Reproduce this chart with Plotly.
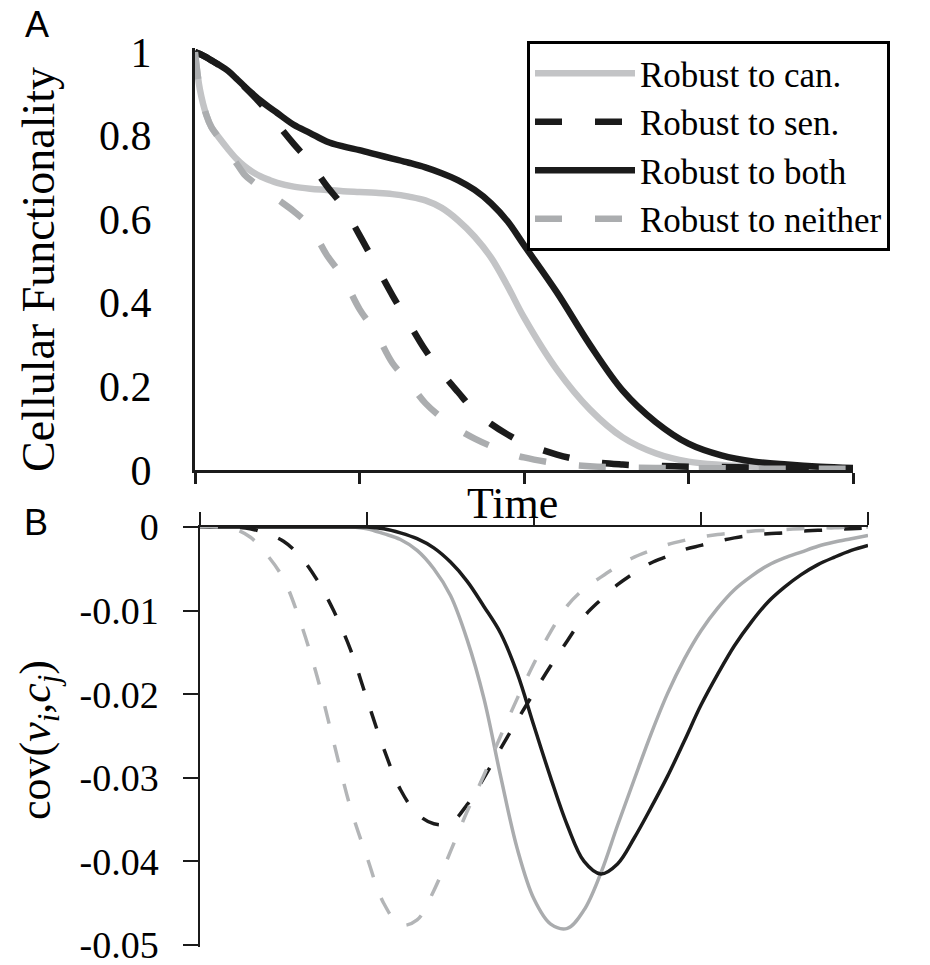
import plotly.graph_objects as go

# ---------------- data ----------------
# Panel A : cellular functionality vs time
tA = [0, 0.03, 0.07, 0.1, 0.15, 0.2, 0.25, 0.3, 0.35, 0.4, 0.45, 0.5, 0.6, 0.7, 0.8, 0.9, 1.0,
      1.1, 1.2, 1.3, 1.4, 1.5, 1.6, 1.7, 1.8, 1.9, 2.0, 2.2, 2.4, 2.6, 2.8, 3.0, 3.2, 3.4, 3.6,
      3.8, 4.0]
A_can = [1.0, 0.91, 0.848, 0.82, 0.793, 0.768, 0.745, 0.727, 0.713, 0.702, 0.694, 0.687, 0.678,
         0.673, 0.670, 0.667, 0.665, 0.663, 0.660, 0.654, 0.645, 0.627, 0.597, 0.558, 0.508, 0.44,
         0.365, 0.24, 0.145, 0.078, 0.04, 0.02, 0.012, 0.008, 0.006, 0.004, 0.003]
A_sen = [1.0, 0.995, 0.987, 0.98, 0.968, 0.955, 0.937, 0.917, 0.897, 0.876, 0.853, 0.828, 0.78,
         0.735, 0.68, 0.63, 0.562, 0.49, 0.418, 0.352, 0.287, 0.233, 0.186, 0.141, 0.11, 0.085,
         0.064, 0.037, 0.02, 0.013, 0.01, 0.008, 0.007, 0.006, 0.005, 0.004, 0.003]
A_both = [1.0, 0.995, 0.987, 0.98, 0.968, 0.955, 0.937, 0.918, 0.9, 0.883, 0.868, 0.854, 0.826,
          0.806, 0.786, 0.774, 0.765, 0.755, 0.745, 0.735, 0.724, 0.71, 0.693, 0.67, 0.638, 0.595,
          0.538, 0.425, 0.30, 0.19, 0.115, 0.063, 0.035, 0.02, 0.013, 0.008, 0.005]
A_neither = [1.0, 0.91, 0.848, 0.82, 0.792, 0.763, 0.735, 0.707, 0.69, 0.676, 0.663, 0.648, 0.619,
             0.582, 0.515, 0.46, 0.385, 0.328, 0.256, 0.21, 0.16, 0.125, 0.097, 0.075, 0.057,
             0.042, 0.03, 0.016, 0.009, 0.006, 0.005, 0.004, 0.004, 0.003, 0.003, 0.003, 0.003]

# Panel B : cov(v_i, c_j) vs time
tB = [0, 0.1, 0.2, 0.3, 0.4, 0.5, 0.6, 0.7, 0.8, 0.9, 1.0, 1.1, 1.2, 1.3, 1.4, 1.5, 1.6, 1.7, 1.8,
      1.9, 2.0, 2.1, 2.2, 2.3, 2.4, 2.5, 2.6, 2.7, 2.8, 2.9, 3.0, 3.1, 3.2, 3.3, 3.4, 3.5, 3.6,
      3.7, 3.8, 3.9, 4.0]
B_can = [0, 0, 0, 0, 0, 0, 0, 0, 0, 0, -0.0002, -0.0008, -0.0015, -0.0028, -0.0050, -0.0082,
         -0.0135, -0.0205, -0.0298, -0.0385, -0.0445, -0.0475, -0.0480, -0.0458, -0.0414, -0.0357,
         -0.0302, -0.0248, -0.0199, -0.0158, -0.0124, -0.0097, -0.0075, -0.0059, -0.0046, -0.0037,
         -0.0030, -0.0023, -0.0018, -0.0014, -0.0010]
B_sen = [0, 0, 0, -0.0002, -0.0008, -0.0017, -0.0035, -0.0063, -0.0100, -0.0146, -0.0206, -0.0265,
         -0.0314, -0.0343, -0.0355, -0.0354, -0.0332, -0.0300, -0.0265, -0.0231, -0.0198, -0.0166,
         -0.0136, -0.0107, -0.0087, -0.0069, -0.0055, -0.0043, -0.0035, -0.0027, -0.0022, -0.0017,
         -0.0013, -0.0010, -0.0008, -0.0007, -0.0005, -0.0004, -0.0003, -0.0002, -0.0001]
B_both = [0, 0, 0, 0, 0, 0, 0, 0, 0, 0, 0, -0.0002, -0.0007, -0.0014, -0.0025, -0.0042, -0.0065,
          -0.0095, -0.0127, -0.0175, -0.0238, -0.0300, -0.0357, -0.0400, -0.0415, -0.0403, -0.0372,
          -0.0336, -0.0298, -0.0256, -0.0213, -0.0176, -0.0142, -0.0114, -0.0090, -0.0072, -0.0057,
          -0.0045, -0.0036, -0.0028, -0.0022]
B_neither = [0, 0, -0.0002, -0.0012, -0.0033, -0.0062, -0.0113, -0.0178, -0.0257, -0.0335, -0.0395,
             -0.0450, -0.0476, -0.0470, -0.0435, -0.0388, -0.0340, -0.0297, -0.0250, -0.0205,
             -0.0163, -0.0125, -0.0094, -0.0074, -0.0060, -0.0047, -0.0036, -0.0028, -0.0021,
             -0.0016, -0.0012, -0.0009, -0.0007, -0.0005, -0.0004, -0.0003, -0.0002, -0.0001,
             -0.0001, 0, 0]

names = ["Robust to can.", "Robust to sen.", "Robust to both", "Robust to neither"]

x_ticks = [0, 1, 2, 3, 4]
yA_ticks = [0, 0.2, 0.4, 0.6, 0.8, 1]
yA_labels = ["0", "0.2", "0.4", "0.6", "0.8", "1"]
yB_ticks = [0, -0.01, -0.02, -0.03, -0.04, -0.05]
yB_labels = ["0", "-0.01", "-0.02", "-0.03", "-0.04", "-0.05"]

# ---------------- styling ----------------
W, H = 930, 965
SERIF = "Liberation Serif"
SANS = "Liberation Sans"
BLACK = "#1b1b1b"
GREY_A_SOLID = "#c3c4c6"
GREY_A_DASH = "#abadaf"
GREY_B_SOLID = "#aaacae"
GREY_B_DASH = "#b3b5b7"

def px_x(p):
    return p / W

def px_y(p):
    return 1 - p / H

domA_x = [px_x(195), px_x(853)]
domA_y = [px_y(470), px_y(47.8)]
domB_x = [px_x(200), px_x(868)]
domB_y = [px_y(946.7), px_y(527)]
rangeB = [-0.0502, 0]

fig = go.Figure()

dashA = "27px,33px"
dashB = "18px,22px"

specA = [
    (names[0], A_can, GREY_A_SOLID, "solid", 1),
    (names[2], A_both, BLACK, "solid", 3),
    (names[1], A_sen, BLACK, dashA, 2),
    (names[3], A_neither, GREY_A_DASH, dashA, 4),
]
for nm, ys, col, dash, rank in specA:
    fig.add_trace(go.Scatter(x=tA, y=ys, name=nm, mode="lines", xaxis="x", yaxis="y",
                             line=dict(color=col, width=6.5, dash=dash, shape="spline", smoothing=1.0),
                             legendrank=rank, showlegend=True, hoverinfo="skip"))

specB = [
    (names[0], B_can, GREY_B_SOLID, "solid"),
    (names[2], B_both, BLACK, "solid"),
    (names[1], B_sen, BLACK, dashB),
    (names[3], B_neither, GREY_B_DASH, dashB),
]
for nm, ys, col, dash in specB:
    fig.add_trace(go.Scatter(x=tB, y=ys, name=nm, mode="lines", xaxis="x2", yaxis="y2",
                             line=dict(color=col, width=3.5, dash=dash, shape="spline", smoothing=1.0),
                             showlegend=False, hoverinfo="skip"))

tickfontA = dict(family=SERIF, size=42, color="black")
tickfontB = dict(family=SERIF, size=38, color="black")
common = dict(showgrid=False, zeroline=False, automargin=False)

fig.update_layout(
    template="none",
    width=W, height=H,
    margin=dict(l=0, r=0, t=0, b=0, pad=0, autoexpand=False),
    paper_bgcolor="white", plot_bgcolor="rgba(0,0,0,0)",
    font=dict(family=SERIF, color="black"),
    showlegend=True,
    legend=dict(x=px_x(527), y=px_y(41), xanchor="left", yanchor="top",
                bgcolor="white", bordercolor="black", borderwidth=3,
                font=dict(family=SERIF, size=35, color="black"),
                itemwidth=100, tracegroupgap=0),
    # ---- panel A
    xaxis=dict(domain=domA_x, range=[0, 4], anchor="y", showline=True, linecolor=BLACK,
               linewidth=3, ticks="outside", ticklen=11, tickwidth=3, tickcolor=BLACK,
               tickvals=x_ticks, showticklabels=False, **common),
    xaxis3=dict(overlaying="x", range=[0, 4], anchor="y", showline=False, ticks="inside",
                ticklen=11, tickwidth=3, tickcolor=BLACK, tickvals=x_ticks,
                showticklabels=False, **common),
    yaxis=dict(domain=domA_y, range=[0, 1.01], anchor="x", showline=True, linecolor=BLACK,
               linewidth=3, ticks="", tickvals=yA_ticks, ticktext=yA_labels,
               tickfont=tickfontA, ticklabelstandoff=32, ticklabeloverflow="allow", **common),
    # ---- panel B
    xaxis2=dict(domain=domB_x, range=[0, 4], anchor="y2", side="top", showline=True,
                linecolor=BLACK, linewidth=1.5, ticks="outside", ticklen=13, tickwidth=1.5,
                tickcolor=BLACK, tickvals=x_ticks, showticklabels=False, **common),
    xaxis4=dict(overlaying="x2", range=[0, 4], anchor="y2", side="top", showline=False,
                ticks="inside", ticklen=13, tickwidth=1.5, tickcolor=BLACK, tickvals=x_ticks,
                showticklabels=False, **common),
    yaxis2=dict(domain=domB_y, range=rangeB, anchor="x2", showline=True, linecolor=BLACK,
                linewidth=1.5, ticks="outside", ticklen=15, tickwidth=1.5, tickcolor=BLACK,
                tickvals=yB_ticks, ticktext=yB_labels, tickfont=tickfontB,
                ticklabelstandoff=17, ticklabeloverflow="allow", **common),
    yaxis3=dict(overlaying="y2", range=rangeB, anchor="x2", side="left", showline=False,
                ticks="inside", ticklen=15, tickwidth=1.5, tickcolor=BLACK, tickvals=yB_ticks,
                showticklabels=False, **common),
)

annotations = [
    dict(text="A", x=px_x(37), y=px_y(24), font=dict(family=SANS, size=36, color="black")),
    dict(text="B", x=px_x(36), y=px_y(522), font=dict(family=SANS, size=36, color="black")),
    dict(text="Time", x=px_x(512), y=px_y(503), font=dict(family=SERIF, size=44, color="black")),
    dict(text="Cellular Functionality", x=px_x(38), y=px_y(270), textangle=-90,
         font=dict(family=SERIF, size=46, color="black")),
    dict(text="cov(<i>v</i><sub><i>i</i></sub>,<i>c</i><sub><i>j</i></sub>)", x=px_x(38),
         y=px_y(740), textangle=-90, font=dict(family=SERIF, size=44, color="black")),
]
for a in annotations:
    fig.add_annotation(xref="paper", yref="paper", showarrow=False, xanchor="center",
                       yanchor="middle", **a)

fig.write_html("out.html", config={"displayModeBar": False},
               post_script="document.body.style.margin='0px';")
